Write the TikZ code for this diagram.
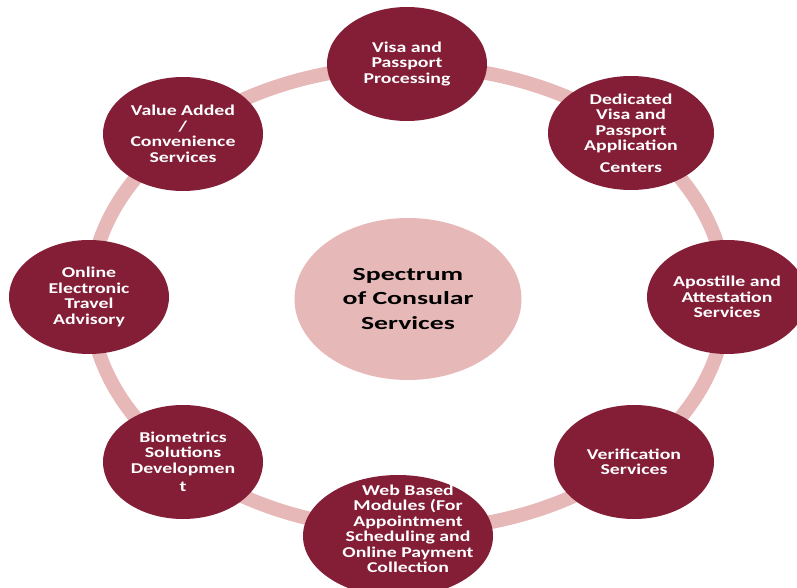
\documentclass[tikz,border=0pt]{standalone}
\usepackage{fontspec}
\setmainfont{Carlito}
\newfontfamily\itemfont[FakeStretch=1.32]{Carlito}
\newfontfamily\hubfont[FakeStretch=1.5]{Carlito}
\usetikzlibrary{shapes.geometric}
\definecolor{maroon}{RGB}{132,29,54}
\definecolor{blush}{RGB}{230,184,183}
\begin{document}
\begin{tikzpicture}[x=1pt,y=-1pt,
  svc/.style={ellipse, fill=maroon, text=white, inner sep=0pt,
    minimum width=160pt, minimum height=114pt, align=center,
    font=\itemfont\bfseries\fontsize{15}{15.5}\selectfont},
  hub/.style={ellipse, fill=blush, text=black, inner sep=0pt,
    minimum width=227pt, minimum height=162pt, align=center,
    font=\hubfont\bfseries\fontsize{18.5}{24}\selectfont},
  ring/.style={draw=blush, line width=14pt}]
\useasboundingbox (0,0) rectangle (797,588);

% pale ring joining the service bubbles
\draw[ring] (408,298) ellipse [x radius=318, y radius=232];

% central hub
\node[hub] (hub) at (408,299) {Spectrum\\of Consular\\Services};

% service bubbles around the ring
\node[svc] (visa) at (407,64) {Visa and\\Passport\\Processing};
\node[svc, minimum width=166pt] (centers) at (631,133) {Dedicated\\Visa and\\Passport\\Application\\[6pt]Centers};
\node[svc] (apostille) at (727,297) {Apostille and\\Attestation\\Services};
\node[svc] (verify) at (634,462) {Verification\\Services};
\node[svc, minimum width=190pt, minimum height=122pt] (web) at (398,536) {};
\node[font=\itemfont\bfseries\fontsize{15}{15.5}\selectfont, text=white, align=center] (webtext) at (408,529) {Web Based\\Modules (For\\Appointment\\Scheduling and\\Online Payment\\Collection};
\node[svc] (bio) at (183,462) {Biometrics\\Solutions\\Developmen\\[3pt]t};
\node[svc] (advisory) at (89,297) {Online\\Electronic\\Travel\\Advisory};
\node[svc] (value) at (183,134) {Value Added\\/\\Convenience\\Services};
\end{tikzpicture}
\end{document}
